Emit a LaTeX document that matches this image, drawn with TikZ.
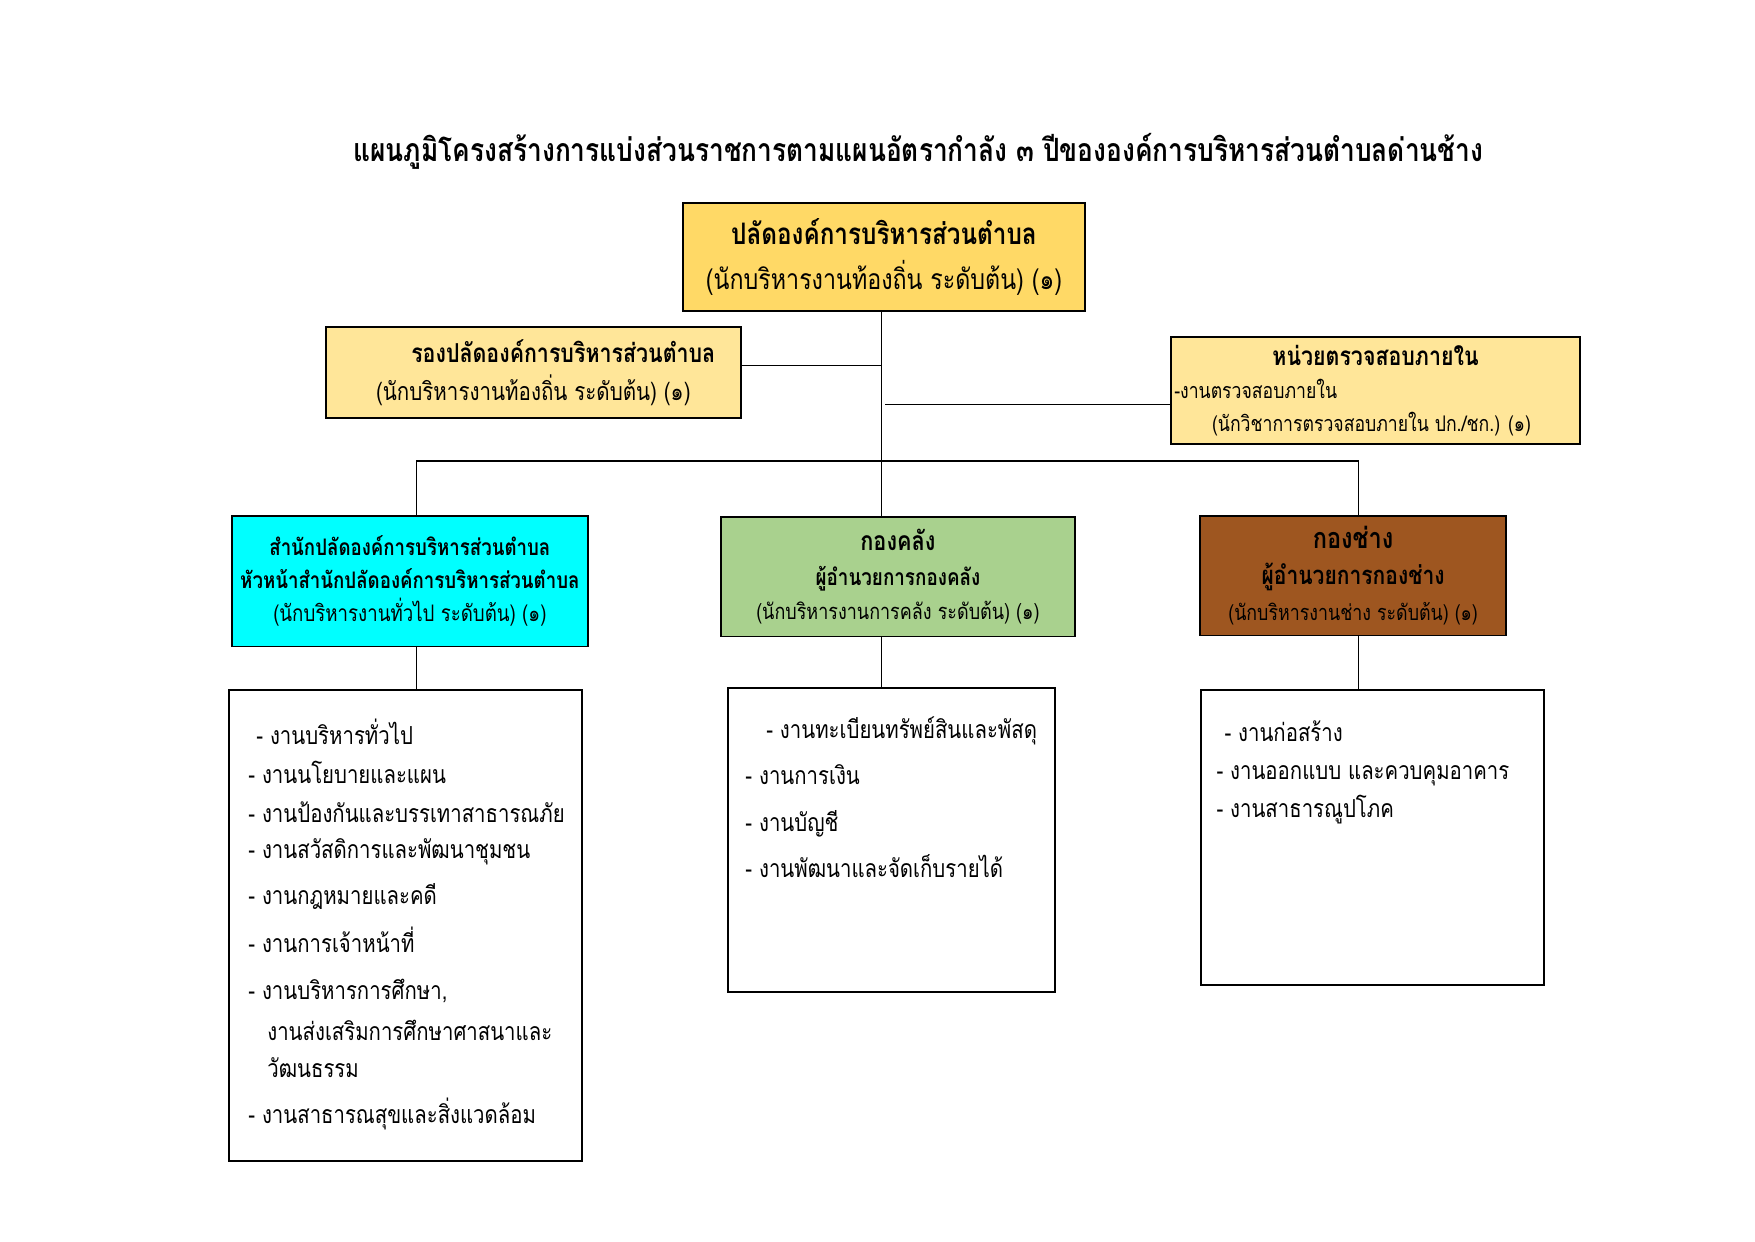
\documentclass[tikz,border=0pt]{standalone}
\usepackage{fontspec}
\setmainfont[Script=Thai,FakeStretch=0.82]{Loma}
\usetikzlibrary{positioning}

\definecolor{jauneFonce}{HTML}{FFD966}
\definecolor{jauneClair}{HTML}{FFE699}
\definecolor{cyanVif}{HTML}{00FFFF}
\definecolor{vertClair}{HTML}{A9D18E}
\definecolor{brunChef}{HTML}{9E5620}

\newdimen\px \px=0.01692cm %taille d'un pixel de l'image de référence

\tikzstyle{boite}   =[draw, line width=0.9pt, rectangle, inner sep=0pt, align=center]
\tikzstyle{trait}   =[line width=0.8pt]
\tikzstyle{ligne}   =[anchor=mid west, inner sep=0pt, font=\fontsize{12}{14}\selectfont]

\begin{document}
\begin{tikzpicture}[x=0.01692cm,y=-0.01692cm]
\useasboundingbox (0,0) rectangle (1762,1246);

%%%%%%%%%%%%%%%%%%%%%%%%
%Titre
%%%%%%%%%%%%%%%%%%%%%%%%
\node[font=\bfseries\fontsize{15.5}{18}\selectfont] (titre) at (922,152) {แผนภูมิโครงสร้างการแบ่งส่วนราชการตามแผนอัตรากำลัง ๓ ปีขององค์การบริหารส่วนตำบลด่านช้าง};

%%%%%%%%%%%%%%%%%%%%%%%%
%Boîtes du haut
%%%%%%%%%%%%%%%%%%%%%%%%
\node[boite, fill=jauneFonce, minimum width=403*\px, minimum height=108*\px,
  font=\fontsize{13.7}{21.5}\selectfont] (palat) at (887.5,258)
  {{\bfseries\fontsize{14.3}{21.5}\selectfont ปลัดองค์การบริหารส่วนตำบล}\\(นักบริหารงานท้องถิ่น ระดับต้น) (๑)};

\node[boite, fill=jauneClair, minimum width=417*\px, minimum height=92*\px,
  font=\fontsize{12.1}{18.5}\selectfont] (adjoint) at (535.5,374)
  {\hspace*{60\px}{\bfseries\fontsize{12.6}{18.5}\selectfont รองปลัดองค์การบริหารส่วนตำบล}\\(นักบริหารงานท้องถิ่น ระดับต้น) (๑)};

\node[boite, fill=jauneClair, minimum width=410*\px, minimum height=108*\px,
  font=\fontsize{10.4}{16}\selectfont] (audit) at (1381,392)
  {{\bfseries\fontsize{12.6}{16}\selectfont หน่วยตรวจสอบภายใน}\\
   \makebox[404\px][l]{-งานตรวจสอบภายใน}\\
   \hspace*{-8\px}(นักวิชาการตรวจสอบภายใน ปก./ชก.) (๑)};

%%%%%%%%%%%%%%%%%%%%%%%%
%Les trois services
%%%%%%%%%%%%%%%%%%%%%%%%
\node[boite, fill=cyanVif, minimum width=357*\px, minimum height=131*\px,
  font=\fontsize{11}{16}\selectfont] (bureau) at (411.5,583.5)
  {{\bfseries สำนักปลัดองค์การบริหารส่วนตำบล}\\
   {\bfseries หัวหน้าสำนักปลัดองค์การบริหารส่วนตำบล}\\
   (นักบริหารงานทั่วไป ระดับต้น) (๑)};

\node[boite, fill=vertClair, minimum width=355*\px, minimum height=120*\px,
  font=\fontsize{10.6}{16.5}\selectfont] (finance) at (901.5,579)
  {{\bfseries\fontsize{12.8}{16.5}\selectfont กองคลัง}\\
   {\bfseries\fontsize{11.1}{16.5}\selectfont ผู้อำนวยการกองคลัง}\\
   (นักบริหารงานการคลัง ระดับต้น) (๑)};

\node[boite, fill=brunChef, minimum width=307*\px, minimum height=120*\px,
  font=\fontsize{10.5}{17.5}\selectfont] (travaux) at (1358.5,578)
  {{\bfseries\fontsize{13.9}{17.5}\selectfont กองช่าง}\\
   {\bfseries\fontsize{12.4}{17.5}\selectfont ผู้อำนวยการกองช่าง}\\
   (นักบริหารงานช่าง ระดับต้น) (๑)};

%%%%%%%%%%%%%%%%%%%%%%%%
%Listes des tâches
%%%%%%%%%%%%%%%%%%%%%%%%
\node[boite, minimum width=354*\px, minimum height=473*\px] (listeG) at (407,929.5) {};
\node[boite, minimum width=328*\px, minimum height=305*\px] (listeM) at (895,843.5) {};
\node[boite, minimum width=344*\px, minimum height=296*\px] (listeD) at (1378,841) {};

\foreach \x/\y/\t in {257/742/{- งานบริหารทั่วไป},249/781/{- งานนโยบายและแผน},
  249/820/{- งานป้องกันและบรรเทาสาธารณภัย},249/857/{- งานสวัสดิการและพัฒนาชุมชน},
  249/903/{- งานกฎหมายและคดี},249/951/{- งานการเจ้าหน้าที่},
  249/998/{- งานบริหารการศึกษา,},268/1039/{งานส่งเสริมการศึกษาศาสนาและ},
  268/1076/{วัฒนธรรม},249/1123/{- งานสาธารณสุขและสิ่งแวดล้อม}}
  \node[ligne] (g\y) at (\x,\y) {\t};

\foreach \x/\y/\t in {769/736/{- งานทะเบียนทรัพย์สินและพัสดุ},748/782/{- งานการเงิน},
  748/829/{- งานบัญชี},748/876/{- งานพัฒนาและจัดเก็บรายได้}}
  \node[ligne] (m\y) at (\x,\y) {\t};

\foreach \x/\y/\t in {1229/739/{- งานก่อสร้าง},1221/777/{- งานออกแบบ และควบคุมอาคาร},
  1221/815/{- งานสาธารณูปโภค}}
  \node[ligne] (d\y) at (\x,\y) {\t};

%%%%%%%%%%%%%%%%%%%%%%%%
%Liaisons
%%%%%%%%%%%%%%%%%%%%%%%%
\coordinate (tronc) at (885,463); %jonction du tronc et de la barre
\coordinate (barG) at (418,463);
\coordinate (barD) at (1364,463);
\coordinate (jAdj) at (885,367);
\coordinate (jAud) at (889,406);

\draw[trait] (tronc |- palat.south) -- (tronc |- finance.north);
\draw[trait] (jAdj -| adjoint.east) -- (jAdj);
\draw[trait] (jAud) -- (jAud -| audit.west);
\draw[trait] (barG) -- (barD);
\draw[trait] (barG) -- (barG |- bureau.north);
\draw[trait] (barD) -- (barD |- travaux.north);
\draw[trait] (barG |- bureau.south) -- (barG |- listeG.north);
\draw[trait] (tronc |- finance.south) -- (tronc |- listeM.north);
\draw[trait] (barD |- travaux.south) -- (barD |- listeD.north);

\end{tikzpicture}
\end{document}
